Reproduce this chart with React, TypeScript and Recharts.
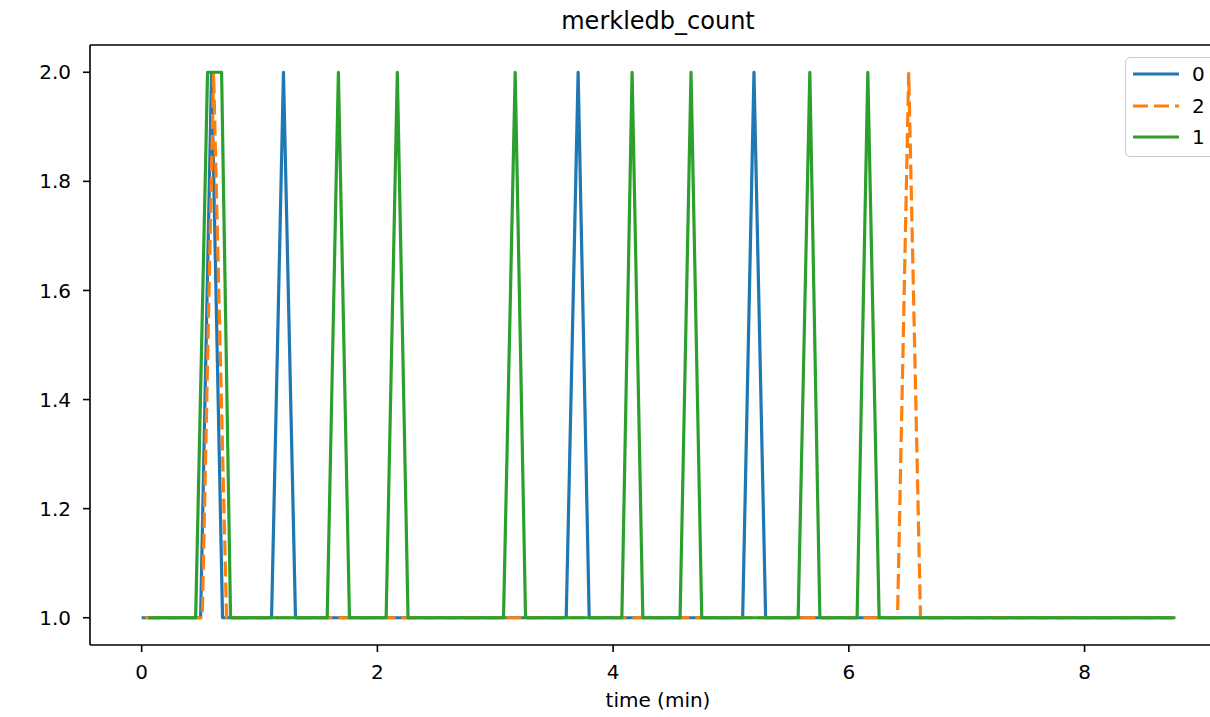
import { LineChart, Line, XAxis, YAxis, Legend, ReferenceLine } from 'recharts'

// series "0" (blue)
const timeS0 = [0, 0.5, 0.593, 0.686, 1.102, 1.203, 1.305, 3.602, 3.703, 3.797, 5.099, 5.195, 5.294, 8.75]
const valueS0 = [1, 1, 2, 1, 1, 2, 1, 1, 2, 1, 1, 2, 1, 1]

// series "2" (orange, dashed)
const timeS2 = [0.03, 0.514, 0.61, 0.72, 6.413, 6.508, 6.608, 8.75]
const valueS2 = [1, 1, 2, 1, 1, 2, 1, 1]

// series "1" (green)
const timeS1 = [
  0.056, 0.458, 0.559, 0.678, 0.754, 1.574, 1.669, 1.763, 2.074, 2.169, 2.26, 3.07, 3.169, 3.257,
  4.074, 4.161, 4.252, 4.568, 4.661, 4.752, 5.57, 5.669, 5.754, 6.07, 6.161, 6.257, 8.771,
]
const valueS1 = [
  1, 1, 2, 2, 1, 1, 2, 1, 1, 2, 1, 1, 2, 1,
  1, 2, 1, 1, 2, 1, 1, 2, 1, 1, 2, 1, 1,
]

const legendOrder = ['0', '2', '1']
const xTicks = [0, 2, 4, 6, 8]
const yTicks = [1.0, 1.2, 1.4, 1.6, 1.8, 2.0]
const X_DOMAIN: [number, number] = [-0.4385, 9.2085]
const Y_DOMAIN: [number, number] = [0.95, 2.05]

const toPoints = (ts: number[], vs: number[]) => ts.map((t, i) => ({ t, v: vs[i] }))

const FONT = '"DejaVu Sans", sans-serif'

const renderLegend = (props: any) => {
  const items = [...(props.payload ?? [])].sort(
    (a: any, b: any) => legendOrder.indexOf(String(a.value)) - legendOrder.indexOf(String(b.value))
  )
  return (
    <div
      style={{
        position: 'relative',
        width: 110,
        height: 100,
        border: '1.6px solid #cccccc',
        borderRadius: 5,
        background: 'rgba(255,255,255,0.8)',
        fontFamily: FONT,
        fontSize: 20,
        boxSizing: 'border-box',
      }}
    >
      {items.map((it: any, i: number) => (
        <div key={i} style={{ position: 'absolute', left: 0, top: 2 + i * 31.5, height: 28, display: 'flex', alignItems: 'center' }}>
          <svg width={60} height={28} style={{ display: 'block' }}>
            <line
              x1={7}
              x2={53}
              y1={14}
              y2={14}
              stroke={it.color}
              strokeWidth={3.2}
              strokeDasharray={it.payload?.strokeDasharray}
            />
          </svg>
          <span style={{ marginLeft: 6, color: '#000', lineHeight: '28px' }}>{it.value}</span>
        </div>
      ))}
    </div>
  )
}

export default function App() {
  return (
    <div style={{ position: 'absolute', left: 0, top: 0, width: 1210, height: 717, overflow: 'hidden', background: '#fff' }}>
      <LineChart width={1240} height={717} margin={{ top: 45, right: 13, bottom: 0, left: 0 }}>
        <XAxis
          dataKey="t"
          type="number"
          domain={X_DOMAIN}
          ticks={xTicks}
          allowDataOverflow
          height={72}
          tickSize={7}
          tickMargin={13}
          stroke="#000"
          strokeWidth={1.6}
          tick={{ fontSize: 20, fill: '#000', fontFamily: FONT }}
        />
        <YAxis
          type="number"
          domain={Y_DOMAIN}
          ticks={yTicks}
          allowDataOverflow
          width={90}
          tickSize={7}
          tickMargin={12}
          stroke="#000"
          strokeWidth={1.6}
          tickFormatter={(v: number) => v.toFixed(1)}
          tick={{ fontSize: 20, fill: '#000', fontFamily: FONT }}
        />
        <ReferenceLine y={Y_DOMAIN[1]} stroke="#000" strokeWidth={1.6} />
        <Legend
          verticalAlign="middle"
          align="center"
          layout="vertical"
          itemSorter={null as any}
          content={renderLegend}
          wrapperStyle={{ position: 'absolute', left: 1125, top: 57, width: 110, height: 100 }}
        />
        <Line
          data={toPoints(timeS0, valueS0)}
          dataKey="v"
          name="0"
          stroke="#1f77b4"
          strokeWidth={3.2}
          strokeLinejoin="round"
          dot={false}
          isAnimationActive={false}
        />
        <Line
          data={toPoints(timeS2, valueS2)}
          dataKey="v"
          name="2"
          stroke="#ff7f0e"
          strokeWidth={3.2}
          strokeDasharray="15 6"
          dot={false}
          isAnimationActive={false}
        />
        <Line
          data={toPoints(timeS1, valueS1)}
          dataKey="v"
          name="1"
          stroke="#2ca02c"
          strokeWidth={3.2}
          strokeLinejoin="round"
          dot={false}
          isAnimationActive={false}
        />
      </LineChart>
      <svg width={1210} height={717} style={{ position: 'absolute', left: 0, top: 0, pointerEvents: 'none' }}>
        <text x={658} y={29} textAnchor="middle" fontFamily={FONT} fontSize={24} fill="#000">
          merkledb_count
        </text>
        <text x={658} y={707} textAnchor="middle" fontFamily={FONT} fontSize={20} fill="#000">
          time (min)
        </text>
      </svg>
    </div>
  )
}
